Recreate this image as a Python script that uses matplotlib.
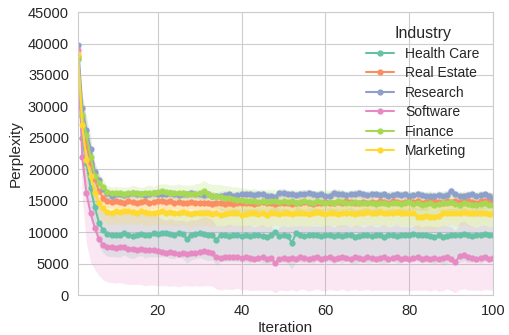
import numpy as np
import matplotlib
matplotlib.use('Agg')
import matplotlib.pyplot as plt
import seaborn as sns

# values in hundreds of perplexity, iteration 1..100
iterations = list(range(1, 101))
industries = ['Health Care', 'Real Estate', 'Research', 'Software', 'Finance', 'Marketing']

health_care = [375, 250, 210, 170, 140, 115, 103, 97, 95, 96,
               96, 98, 95, 94, 96, 97, 95, 96, 98, 97,
               99, 98, 97, 96, 98, 97, 89, 96, 97, 98,
               97, 96, 95, 88, 96, 95, 94, 96, 95, 94,
               95, 94, 96, 95, 94, 93, 95, 101, 94, 95,
               94, 83, 99, 95, 94, 95, 95, 96, 94, 95,
               96, 94, 95, 94, 96, 95, 93, 94, 96, 95,
               94, 96, 95, 93, 95, 96, 94, 95, 96, 95,
               97, 96, 95, 96, 94, 93, 95, 92, 94, 96,
               95, 96, 97, 95, 94, 96, 95, 97, 96, 96]
real_estate = [380, 285, 240, 210, 185, 165, 155, 150, 148, 149,
               148, 147, 149, 148, 147, 148, 149, 147, 148, 149,
               150, 148, 149, 147, 148, 146, 147, 148, 147, 146,
               147, 146, 145, 146, 147, 145, 146, 145, 146, 147,
               146, 147, 145, 146, 148, 147, 146, 145, 147, 146,
               147, 145, 146, 147, 148, 146, 145, 147, 146, 148,
               147, 146, 148, 147, 149, 148, 147, 146, 148, 147,
               148, 147, 149, 148, 147, 149, 148, 147, 148, 149,
               148, 149, 147, 148, 149, 150, 148, 147, 149, 148,
               149, 148, 150, 149, 148, 147, 149, 150, 151, 150]
research = [398, 297, 262, 233, 196, 183, 168, 162, 158, 160,
            161, 159, 160, 162, 160, 161, 159, 160, 162, 161,
            160, 161, 162, 160, 159, 161, 160, 162, 161, 160,
            159, 160, 158, 157, 158, 159, 160, 158, 159, 160,
            161, 160, 159, 161, 160, 158, 157, 156, 162, 163,
            161, 160, 159, 160, 161, 162, 160, 159, 161, 157,
            158, 163, 161, 160, 159, 160, 161, 162, 160, 159,
            160, 161, 159, 160, 158, 159, 160, 159, 160, 158,
            159, 160, 159, 158, 157, 158, 159, 158, 159, 166,
            160, 158, 157, 159, 160, 158, 159, 160, 158, 155]
software = [390, 220, 162, 130, 107, 89, 80, 76, 77, 75,
            77, 76, 73, 74, 72, 73, 72, 71, 72, 70,
            68, 67, 68, 67, 66, 67, 66, 67, 67, 68,
            70, 69, 67, 60, 59, 60, 61, 60, 61, 59,
            60, 59, 58, 59, 60, 58, 59, 51, 58, 59,
            58, 59, 58, 60, 59, 58, 59, 60, 58, 59,
            60, 58, 59, 61, 59, 58, 60, 59, 58, 60,
            59, 58, 59, 60, 58, 59, 60, 58, 59, 57,
            59, 60, 58, 59, 58, 59, 57, 59, 60, 58,
            53, 62, 64, 60, 59, 58, 59, 60, 58, 59]
finance = [376, 286, 254, 220, 190, 179, 172, 164, 162, 163,
           162, 161, 162, 163, 162, 161, 162, 163, 162, 164,
           165, 164, 163, 162, 163, 162, 161, 160, 161, 162,
           165, 160, 158, 157, 156, 155, 154, 153, 152, 151,
           150, 149, 150, 148, 149, 148, 150, 149, 148, 149,
           148, 149, 147, 148, 149, 148, 147, 149, 148, 147,
           148, 147, 149, 148, 147, 146, 148, 147, 146, 147,
           146, 145, 147, 146, 145, 146, 147, 145, 146, 148,
           145, 146, 144, 145, 146, 144, 145, 147, 146, 148,
           145, 144, 146, 145, 143, 144, 145, 146, 144, 143]
marketing = [384, 270, 215, 190, 162, 147, 138, 132, 131, 133,
             132, 133, 134, 132, 131, 133, 132, 130, 131, 132,
             133, 131, 132, 130, 131, 132, 130, 129, 130, 131,
             130, 131, 129, 130, 128, 129, 130, 131, 130, 128,
             129, 130, 131, 129, 130, 128, 130, 131, 129, 130,
             131, 129, 130, 131, 130, 129, 131, 132, 130, 129,
             130, 131, 129, 130, 131, 130, 129, 131, 130, 132,
             131, 130, 132, 131, 130, 131, 132, 130, 131, 130,
             131, 124, 125, 126, 124, 125, 126, 131, 130, 131,
             130, 131, 132, 130, 131, 130, 131, 130, 129, 130]

# half widths of the shaded bands (hundreds)
health_care_band = [10, 50, 48, 45, 40, 37, 36, 35, 34, 35,
                    36, 34, 35, 36, 35, 34, 36, 35, 37, 36,
                    38, 37, 39, 38, 37, 39, 38, 40, 39, 38,
                    40, 41, 39, 40, 42, 41, 40, 42, 41, 42,
                    42, 43, 41, 42, 43, 42, 44, 43, 42, 43,
                    43, 42, 44, 43, 42, 43, 44, 42, 43, 42,
                    43, 44, 42, 43, 42, 44, 43, 42, 43, 44,
                    42, 43, 44, 42, 43, 42, 43, 44, 42, 43,
                    43, 42, 43, 44, 42, 43, 42, 44, 43, 42,
                    43, 44, 42, 43, 42, 43, 44, 43, 42, 43]
real_estate_band = [8, 30, 28, 25, 20, 15, 12, 11, 10, 10,
                    10, 11, 10, 12, 11, 10, 11, 12, 11, 10,
                    11, 12, 11, 10, 12, 11, 12, 11, 10, 12,
                    12, 13, 12, 11, 13, 12, 13, 12, 11, 12,
                    13, 12, 13, 12, 11, 13, 12, 13, 12, 13,
                    12, 13, 12, 13, 12, 11, 12, 13, 12, 13,
                    12, 13, 12, 11, 13, 12, 13, 12, 13, 12,
                    13, 12, 13, 12, 12, 13, 12, 13, 12, 13,
                    12, 13, 12, 13, 12, 13, 12, 12, 13, 12,
                    13, 12, 13, 12, 13, 12, 13, 12, 12, 13]
research_band = [6, 25, 22, 18, 15, 10, 8, 7, 7, 6,
                 6, 7, 6, 7, 6, 6, 7, 6, 7, 6,
                 7, 6, 7, 7, 6, 7, 6, 7, 6, 7,
                 7, 6, 7, 6, 7, 7, 6, 7, 6, 7,
                 6, 7, 7, 6, 7, 6, 7, 6, 7, 7,
                 6, 7, 6, 7, 7, 6, 7, 6, 7, 6,
                 7, 7, 6, 7, 6, 7, 6, 7, 7, 6,
                 7, 6, 7, 6, 7, 7, 6, 7, 6, 7,
                 6, 7, 7, 6, 7, 6, 7, 6, 7, 7,
                 6, 7, 6, 7, 7, 6, 7, 6, 7, 6]
software_band = [12, 65, 80, 78, 66, 58, 56, 55, 57, 56,
                 57, 58, 56, 57, 55, 56, 57, 55, 56, 55,
                 53, 52, 54, 52, 53, 52, 51, 53, 52, 54,
                 55, 54, 53, 50, 51, 50, 52, 51, 50, 51,
                 51, 52, 50, 51, 52, 50, 51, 48, 50, 52,
                 51, 50, 52, 51, 50, 52, 51, 50, 51, 52,
                 51, 50, 52, 51, 53, 50, 51, 52, 50, 51,
                 52, 50, 51, 52, 50, 51, 52, 50, 51, 50,
                 51, 52, 50, 51, 52, 50, 51, 52, 50, 51,
                 49, 53, 54, 52, 51, 50, 52, 51, 50, 51]
finance_band = [8, 28, 25, 22, 18, 14, 12, 10, 10, 10,
                10, 11, 10, 12, 11, 10, 11, 12, 11, 12,
                12, 13, 12, 13, 14, 13, 14, 15, 16, 16,
                17, 18, 18, 19, 20, 19, 20, 19, 20, 19,
                20, 19, 20, 18, 19, 20, 18, 19, 20, 19,
                18, 19, 20, 19, 18, 20, 19, 18, 19, 20,
                19, 18, 20, 19, 18, 19, 20, 19, 18, 19,
                20, 19, 18, 20, 19, 18, 19, 20, 19, 18,
                19, 20, 18, 19, 20, 19, 18, 19, 20, 19,
                18, 19, 20, 19, 18, 19, 20, 18, 19, 20]
marketing_band = [10, 40, 35, 30, 25, 22, 20, 20, 19, 20,
                  19, 20, 21, 19, 20, 19, 21, 20, 19, 20,
                  21, 20, 19, 21, 20, 19, 20, 21, 19, 20,
                  20, 19, 21, 20, 19, 20, 21, 19, 20, 21,
                  19, 20, 21, 20, 19, 20, 21, 19, 20, 19,
                  20, 21, 19, 20, 21, 20, 19, 20, 21, 19,
                  20, 19, 21, 20, 19, 20, 21, 20, 19, 20,
                  21, 19, 20, 21, 20, 19, 20, 21, 19, 20,
                  20, 21, 19, 20, 21, 19, 20, 21, 20, 19,
                  20, 21, 19, 20, 21, 20, 19, 20, 21, 19]

series = [health_care, real_estate, research, software, finance, marketing]
bands = [health_care_band, real_estate_band, research_band, software_band, finance_band, marketing_band]

sns.set_style('whitegrid')
plt.rcParams['font.family'] = ['Liberation Sans', 'DejaVu Sans']
colors = sns.color_palette('Set2', 6)

fig, ax = plt.subplots(figsize=(5.1, 3.35), dpi=100)
fig.subplots_adjust(left=0.153, right=0.967, bottom=0.119, top=0.964)

x = np.array(iterations)
for name, vals, hw, c in zip(industries, series, bands, colors):
    y = np.array(vals) * 100
    h = np.array(hw) * 100
    ax.fill_between(x, y - h, y + h, color=c, alpha=0.2, linewidth=0)
for name, vals, c in zip(industries, series, colors):
    y = np.array(vals) * 100
    ax.plot(x, y, color=c, marker='o', markersize=4.5, markeredgewidth=0,
            linewidth=1.5, label=name)

ax.set_xlim(1, 100)
ax.set_ylim(0, 45000)
ax.set_xticks([20, 40, 60, 80, 100])
ax.set_yticks(range(0, 45001, 5000))
ax.tick_params(labelsize=10.5, colors='.15', pad=3)
ax.set_xlabel('Iteration', fontsize=11, color='.15', labelpad=2)
ax.set_ylabel('Perplexity', fontsize=11, color='.15', labelpad=4)
for s in ax.spines.values():
    s.set_color('.8')

leg = ax.legend(title='Industry', loc='upper right', frameon=False,
                fontsize=10, title_fontsize=11.5, labelspacing=0.4,
                handlelength=2.0, borderaxespad=0.6)

fig.savefig('out.png', dpi=100)
